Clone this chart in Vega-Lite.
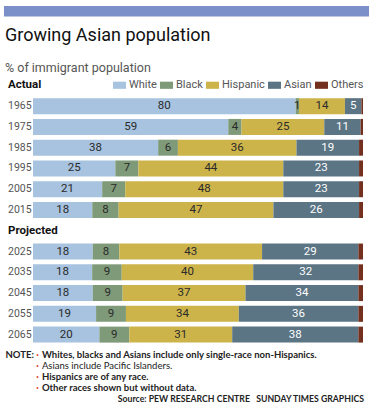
{
  "$schema": "https://vega.github.io/schema/vega-lite/v6.json",
  "padding": {"left": 4, "top": 6, "right": 0, "bottom": 0},
  "background": "white",
  "config": {"view": {"stroke": null}, "font": "Roboto"},
  "spacing": 9,
  "vconcat": [
    {
      "width": 365,
      "height": 10.5,
      "view": {"fill": "#7b8fc8", "stroke": null},
      "data": {"values": []},
      "mark": {"type": "text"},
      "encoding": {}
    },
    {
      "spacing": 4,
      "vconcat": [
        {
          "width": 359,
          "height": 270,
          "title": {
            "text": "Growing Asian population",
            "subtitle": "% of immigrant population",
            "anchor": "start",
            "frame": "group",
            "dx": 1,
            "font": "Roboto",
            "fontSize": 18,
            "fontWeight": "normal",
            "color": "#111",
            "subtitleFont": "Roboto",
            "subtitleFontSize": 12.5,
            "subtitleColor": "#555",
            "subtitlePadding": 17,
            "offset": 1
          },
          "data": {
            "values": [
              {"year": "1965", "race": "White", "value": 80}, {"year": "1965", "race": "Black", "value": 1}, {"year": "1965", "race": "Hispanic", "value": 14}, {"year": "1965", "race": "Asian", "value": 5}, {"year": "1965", "race": "Others", "value": 0.5},
              {"year": "1975", "race": "White", "value": 59}, {"year": "1975", "race": "Black", "value": 4}, {"year": "1975", "race": "Hispanic", "value": 25}, {"year": "1975", "race": "Asian", "value": 11}, {"year": "1975", "race": "Others", "value": 0.7},
              {"year": "1985", "race": "White", "value": 38}, {"year": "1985", "race": "Black", "value": 6}, {"year": "1985", "race": "Hispanic", "value": 36}, {"year": "1985", "race": "Asian", "value": 19}, {"year": "1985", "race": "Others", "value": 1.2},
              {"year": "1995", "race": "White", "value": 25}, {"year": "1995", "race": "Black", "value": 7}, {"year": "1995", "race": "Hispanic", "value": 44}, {"year": "1995", "race": "Asian", "value": 23}, {"year": "1995", "race": "Others", "value": 1.2},
              {"year": "2005", "race": "White", "value": 21}, {"year": "2005", "race": "Black", "value": 7}, {"year": "2005", "race": "Hispanic", "value": 48}, {"year": "2005", "race": "Asian", "value": 23}, {"year": "2005", "race": "Others", "value": 1.2},
              {"year": "2015", "race": "White", "value": 18}, {"year": "2015", "race": "Black", "value": 8}, {"year": "2015", "race": "Hispanic", "value": 47}, {"year": "2015", "race": "Asian", "value": 26}, {"year": "2015", "race": "Others", "value": 1.2},
              {"year": "2025", "race": "White", "value": 18}, {"year": "2025", "race": "Black", "value": 8}, {"year": "2025", "race": "Hispanic", "value": 43}, {"year": "2025", "race": "Asian", "value": 29}, {"year": "2025", "race": "Others", "value": 1.4},
              {"year": "2035", "race": "White", "value": 18}, {"year": "2035", "race": "Black", "value": 9}, {"year": "2035", "race": "Hispanic", "value": 40}, {"year": "2035", "race": "Asian", "value": 32}, {"year": "2035", "race": "Others", "value": 1.4},
              {"year": "2045", "race": "White", "value": 18}, {"year": "2045", "race": "Black", "value": 9}, {"year": "2045", "race": "Hispanic", "value": 37}, {"year": "2045", "race": "Asian", "value": 34}, {"year": "2045", "race": "Others", "value": 1.4},
              {"year": "2055", "race": "White", "value": 19}, {"year": "2055", "race": "Black", "value": 9}, {"year": "2055", "race": "Hispanic", "value": 34}, {"year": "2055", "race": "Asian", "value": 36}, {"year": "2055", "race": "Others", "value": 1.4},
              {"year": "2065", "race": "White", "value": 20}, {"year": "2065", "race": "Black", "value": 9}, {"year": "2065", "race": "Hispanic", "value": 31}, {"year": "2065", "race": "Asian", "value": 38}, {"year": "2065", "race": "Others", "value": 1.4}
            ]
          },
          "transform": [
            {"calculate": "indexof(['White','Black','Hispanic','Asian','Others'], datum.race)", "as": "order"},
            {"stack": "value", "groupby": ["year"], "sort": [{"field": "order", "order": "ascending"}], "offset": "normalize", "as": ["x0", "x1"]},
            {"calculate": "(datum.x0 + datum.x1) / 2", "as": "xmid"}
          ],
          "layer": [
            {
              "mark": {"type": "bar"},
              "encoding": {
                "y": {
                  "field": "year",
                  "type": "ordinal",
                  "scale": {
                    "domain": ["Actual", "1965", "1975", "1985", "1995", "2005", "2015", "Projected", "2025", "2035", "2045", "2055", "2065"],
                    "paddingInner": 0.23,
                    "paddingOuter": 0.115
                  },
                  "axis": {
                    "title": null,
                    "domain": false,
                    "ticks": false,
                    "labelFont": "Roboto",
                    "labelFontSize": {"condition": {"test": "datum.value === 'Actual' || datum.value === 'Projected'", "value": 11.5}, "value": 10.5},
                    "labelAlign": "left",
                    "labelPadding": -3.5,
                    "labelFontWeight": {"condition": {"test": "datum.value === 'Actual' || datum.value === 'Projected'", "value": "bold"}, "value": "normal"},
                    "labelColor": {"condition": {"test": "datum.value === 'Actual' || datum.value === 'Projected'", "value": "#111"}, "value": "#555"}
                  }
                },
                "x": {"field": "x0", "type": "quantitative", "scale": {"domain": [0, 1], "range": [29, 359], "nice": false, "zero": false}, "axis": null},
                "x2": {"field": "x1"},
                "color": {
                  "field": "race",
                  "type": "nominal",
                  "scale": {
                    "domain": ["White", "Black", "Hispanic", "Asian", "Others"],
                    "range": ["#a7c3df", "#7f9a79", "#cdb44a", "#5b7584", "#74301f"]
                  },
                  "legend": {
                    "title": null,
                    "orient": "none",
                    "legendX": 109,
                    "legendY": 72.5,
                    "direction": "horizontal",
                    "columns": 5,
                    "padding": 0,
                    "symbolType": "M-1,-0.55H1V0.55H-1Z",
                    "symbolSize": 169,
                    "symbolStrokeWidth": 0,
                    "symbolOpacity": 1,
                    "labelFont": "Roboto",
                    "labelFontSize": 11,
                    "labelColor": "#555",
                    "labelOffset": 3,
                    "columnPadding": 3
                  }
                }
              }
            },
            {
              "transform": [{"filter": "datum.race !== 'Others'"}],
              "mark": {"type": "text", "font": "Roboto", "fontSize": 11.5, "baseline": "middle", "align": "center"},
              "encoding": {
                "y": {"field": "year", "type": "ordinal"},
                "x": {"field": "xmid", "type": "quantitative"},
                "text": {"field": "value", "type": "quantitative", "format": ".0f"},
                "color": {"condition": {"test": "datum.race === 'Asian'", "value": "white"}, "value": "#2a2a2a"}
              }
            }
          ]
        },
        {
          "width": 360,
          "height": 55,
          "data": {
            "values": [
              {"line": 1, "text": "Whites, blacks and Asians include only single-race non-Hispanics."},
              {"line": 2, "text": "Asians include Pacific Islanders."},
              {"line": 3, "text": "Hispanics are of any race."},
              {"line": 4, "text": "Other races shown but without data."},
              {"line": 5, "text": "Source: PEW RESEARCH CENTRE\u00a0\u00a0\u00a0SUNDAY TIMES GRAPHICS"}
            ]
          },
          "encoding": {
            "y": {
              "field": "line",
              "type": "ordinal",
              "scale": {"paddingInner": 0, "paddingOuter": 0},
              "axis": {
                "title": null,
                "domain": false,
                "ticks": false,
                "labelExpr": "datum.value == 1 ? 'NOTE:' : ''",
                "labelFont": "Lato",
                "labelFontWeight": "bold",
                "labelFontSize": 9.5,
                "labelColor": "#222",
                "labelAlign": "left",
                "labelPadding": -1
              }
            }
          },
          "layer": [
            {
              "transform": [{"filter": "datum.line <= 4"}],
              "mark": {"type": "text", "align": "left", "baseline": "middle", "fontSize": 9, "color": "#e2472f"},
              "encoding": {
                "x": {"datum": 0, "type": "quantitative", "scale": {"domain": [0, 100], "range": [32, 360], "nice": false, "zero": false}, "axis": null},
                "text": {"value": "•"}
              }
            },
            {
              "transform": [{"filter": "datum.line <= 4"}],
              "mark": {"type": "text", "align": "left", "baseline": "middle", "font": "Lato", "fontSize": 9.5, "color": "#222", "fontWeight": {"expr": "datum.line == 2 ? 'normal' : 'bold'"}},
              "encoding": {
                "x": {"datum": 1.8, "type": "quantitative", "axis": null},
                "text": {"field": "text"}
              }
            },
            {
              "transform": [{"filter": "datum.line == 5"}],
              "mark": {"type": "text", "align": "right", "baseline": "middle", "font": "Lato", "fontSize": 8.7, "color": "#222", "fontWeight": "bold"},
              "encoding": {
                "x": {"datum": 100, "type": "quantitative", "axis": null},
                "text": {"field": "text"}
              }
            }
          ]
        }
      ]
    }
  ]
}
